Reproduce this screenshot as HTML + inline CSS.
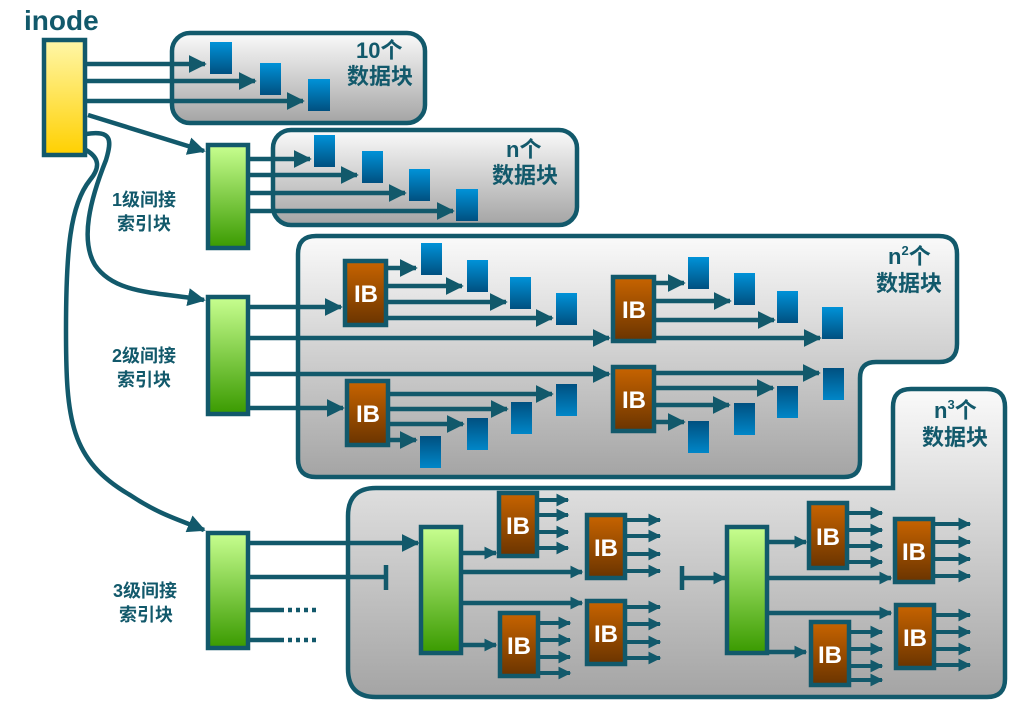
<!DOCTYPE html>
<html><head><meta charset="utf-8"><style>
html,body{margin:0;padding:0;background:#fff}
svg{display:block}
text{font-family:"Liberation Sans","Noto Sans CJK SC",sans-serif;font-weight:bold;fill:#12596b}
.ib{fill:#fff;font-size:24px;text-anchor:middle}
</style></head><body>
<svg width="1034" height="722" viewBox="0 0 1034 722" xmlns="http://www.w3.org/2000/svg">
<defs>
<linearGradient id="gb" x1="0" y1="0" x2="0" y2="1"><stop offset="0" stop-color="#fafafa"/><stop offset="1" stop-color="#a4a4a4"/></linearGradient>
<linearGradient id="gy" x1="0" y1="0" x2="0" y2="1"><stop offset="0" stop-color="#fff7a8"/><stop offset="1" stop-color="#ffd000"/></linearGradient>
<linearGradient id="gg" x1="0" y1="0" x2="0" y2="1"><stop offset="0" stop-color="#c8ff90"/><stop offset="1" stop-color="#3a9a00"/></linearGradient>
<linearGradient id="go" x1="0" y1="0" x2="0" y2="1"><stop offset="0" stop-color="#c86400"/><stop offset="1" stop-color="#6a3400"/></linearGradient>
<linearGradient id="gd" x1="0" y1="0" x2="0" y2="1"><stop offset="0" stop-color="#0092d8"/><stop offset="1" stop-color="#005080"/></linearGradient>
<linearGradient id="gu" x1="0" y1="0" x2="0" y2="1"><stop offset="0" stop-color="#005080"/><stop offset="1" stop-color="#0086c8"/></linearGradient>
<marker id="a" viewBox="0 0 10 10" refX="9" refY="5" markerWidth="18" markerHeight="18" markerUnits="userSpaceOnUse" orient="auto"><path d="M0,0L10,5L0,10z" fill="#12596b"/></marker>
<marker id="s" viewBox="0 0 10 10" refX="9" refY="5" markerWidth="13" markerHeight="13" markerUnits="userSpaceOnUse" orient="auto"><path d="M0,0L10,5L0,10z" fill="#12596b"/></marker>
</defs>
<g stroke="#12596b" stroke-width="4.5">
<rect x="172" y="33" width="253" height="90" rx="18" fill="url(#gb)"/>
<rect x="273" y="130" width="304" height="95" rx="18" fill="url(#gb)"/>
<path d="M316,236 H939 Q957,236 957,254 V344 Q957,362 939,362 H876 Q860,362 860,378 V461 Q860,477 844,477 H316 Q298,477 298,459 V254 Q298,236 316,236 Z" fill="url(#gb)"/>
<path d="M893,407 Q893,389 911,389 H987 Q1005,389 1005,407 V679 Q1005,697 987,697 H376 Q348,697 348,669 V516 Q348,488 376,488 H893 Z" fill="url(#gb)"/>
<rect x="44" y="40" width="41" height="115" fill="url(#gy)"/>
<g fill="none">
<line x1="87" y1="64" x2="205" y2="64" marker-end="url(#a)"/>
<line x1="87" y1="81" x2="255" y2="81" marker-end="url(#a)"/>
<line x1="87" y1="101" x2="303" y2="101" marker-end="url(#a)"/>
<line x1="88" y1="115" x2="204" y2="151" marker-end="url(#a)"/>
<path d="M86,134 C112,130 112,140 106,160 C90,200 80,240 95,265 C115,295 160,292 204,300" marker-end="url(#a)"/>
<path d="M86,150 C100,158 100,168 90,180 C70,205 66,250 66,330 C66,420 70,460 130,495 C160,515 180,520 204,530" marker-end="url(#a)"/>
</g>
<rect x="208" y="145" width="40" height="103" fill="url(#gg)"/>
<g fill="none">
<line x1="249" y1="159" x2="310" y2="159" marker-end="url(#a)"/>
<line x1="249" y1="175" x2="357" y2="175" marker-end="url(#a)"/>
<line x1="249" y1="193" x2="405" y2="193" marker-end="url(#a)"/>
<line x1="249" y1="211" x2="453" y2="211" marker-end="url(#a)"/>
</g>
<rect x="208" y="297" width="40" height="117" fill="url(#gg)"/>
<g fill="none">
<line x1="249" y1="307" x2="341" y2="307" marker-end="url(#a)"/>
<line x1="249" y1="338" x2="609" y2="338" marker-end="url(#a)"/>
<line x1="249" y1="374" x2="609" y2="374" marker-end="url(#a)"/>
<line x1="249" y1="408" x2="343" y2="408" marker-end="url(#a)"/>
<line x1="387" y1="268" x2="416" y2="268" marker-end="url(#a)"/>
<line x1="387" y1="286" x2="462" y2="286" marker-end="url(#a)"/>
<line x1="387" y1="302" x2="506" y2="302" marker-end="url(#a)"/>
<line x1="387" y1="318" x2="552" y2="318" marker-end="url(#a)"/>
<line x1="655" y1="283" x2="684" y2="283" marker-end="url(#a)"/>
<line x1="655" y1="301" x2="730" y2="301" marker-end="url(#a)"/>
<line x1="655" y1="320" x2="774" y2="320" marker-end="url(#a)"/>
<line x1="655" y1="338" x2="820" y2="338" marker-end="url(#a)"/>
<line x1="389" y1="394" x2="552" y2="394" marker-end="url(#a)"/>
<line x1="389" y1="409" x2="507" y2="409" marker-end="url(#a)"/>
<line x1="389" y1="424" x2="463" y2="424" marker-end="url(#a)"/>
<line x1="389" y1="440" x2="416" y2="440" marker-end="url(#a)"/>
<line x1="655" y1="373" x2="819" y2="373" marker-end="url(#a)"/>
<line x1="655" y1="388" x2="773" y2="388" marker-end="url(#a)"/>
<line x1="655" y1="405" x2="729" y2="405" marker-end="url(#a)"/>
<line x1="655" y1="422" x2="684" y2="422" marker-end="url(#a)"/>
</g>
<g fill="url(#go)">
<rect x="345" y="261" width="41" height="64"/>
<rect x="613" y="277" width="41" height="64"/>
<rect x="347" y="381" width="41" height="64"/>
<rect x="613" y="367" width="41" height="64"/>
</g>
<rect x="208" y="533" width="40" height="115" fill="url(#gg)"/>
<g fill="none">
<line x1="249" y1="543" x2="418" y2="543" marker-end="url(#a)"/>
<line x1="249" y1="577" x2="386" y2="577"/>
<line x1="386" y1="565" x2="386" y2="590"/>
<line x1="249" y1="610" x2="284" y2="610"/>
<line x1="249" y1="640" x2="284" y2="640"/>
<line x1="288" y1="610" x2="320" y2="610" stroke-dasharray="4 4"/>
<line x1="288" y1="640" x2="320" y2="640" stroke-dasharray="4 4"/>
<line x1="462" y1="553" x2="496" y2="553" marker-end="url(#s)"/>
<line x1="462" y1="572" x2="582" y2="572" marker-end="url(#s)"/>
<line x1="462" y1="603" x2="582" y2="603" marker-end="url(#s)"/>
<line x1="462" y1="645" x2="496" y2="645" marker-end="url(#s)"/>
<line x1="682" y1="566" x2="682" y2="590"/>
<line x1="682" y1="578" x2="725" y2="578" marker-end="url(#s)"/>
<line x1="768" y1="542" x2="806" y2="542" marker-end="url(#s)"/>
<line x1="768" y1="578" x2="891" y2="578" marker-end="url(#s)"/>
<line x1="768" y1="613" x2="891" y2="613" marker-end="url(#s)"/>
<line x1="768" y1="652" x2="806" y2="652" marker-end="url(#s)"/>
</g>
<rect x="421" y="527" width="40" height="126" fill="url(#gg)"/>
<rect x="727" y="527" width="40" height="126" fill="url(#gg)"/>
<g fill="url(#go)">
<rect x="499" y="493" width="38" height="63"/>
<rect x="587" y="515" width="38" height="63"/>
<rect x="587" y="601" width="38" height="63"/>
<rect x="500" y="613" width="38" height="63"/>
<rect x="809" y="503" width="38" height="65"/>
<rect x="895" y="519" width="38" height="63"/>
<rect x="896" y="605" width="38" height="63"/>
<rect x="811" y="622" width="38" height="63"/>
</g>
</g>
<g stroke="#12596b" stroke-width="4" fill="none">
<line x1="538" y1="500" x2="568" y2="500" marker-end="url(#s)"/><line x1="538" y1="515" x2="568" y2="515" marker-end="url(#s)"/><line x1="538" y1="532" x2="568" y2="532" marker-end="url(#s)"/><line x1="538" y1="548" x2="568" y2="548" marker-end="url(#s)"/>
<line x1="626" y1="520" x2="660" y2="520" marker-end="url(#s)"/><line x1="626" y1="536" x2="660" y2="536" marker-end="url(#s)"/><line x1="626" y1="554" x2="660" y2="554" marker-end="url(#s)"/><line x1="626" y1="571" x2="660" y2="571" marker-end="url(#s)"/>
<line x1="626" y1="607" x2="660" y2="607" marker-end="url(#s)"/><line x1="626" y1="624" x2="660" y2="624" marker-end="url(#s)"/><line x1="626" y1="642" x2="660" y2="642" marker-end="url(#s)"/><line x1="626" y1="658" x2="660" y2="658" marker-end="url(#s)"/>
<line x1="539" y1="623" x2="570" y2="623" marker-end="url(#s)"/><line x1="539" y1="640" x2="570" y2="640" marker-end="url(#s)"/><line x1="539" y1="657" x2="570" y2="657" marker-end="url(#s)"/><line x1="539" y1="673" x2="570" y2="673" marker-end="url(#s)"/>
<line x1="848" y1="513" x2="882" y2="513" marker-end="url(#s)"/><line x1="848" y1="530" x2="882" y2="530" marker-end="url(#s)"/><line x1="848" y1="546" x2="882" y2="546" marker-end="url(#s)"/><line x1="848" y1="562" x2="882" y2="562" marker-end="url(#s)"/>
<line x1="934" y1="524" x2="970" y2="524" marker-end="url(#s)"/><line x1="934" y1="542" x2="970" y2="542" marker-end="url(#s)"/><line x1="934" y1="559" x2="970" y2="559" marker-end="url(#s)"/><line x1="934" y1="576" x2="970" y2="576" marker-end="url(#s)"/>
<line x1="935" y1="615" x2="970" y2="615" marker-end="url(#s)"/><line x1="935" y1="632" x2="970" y2="632" marker-end="url(#s)"/><line x1="935" y1="649" x2="970" y2="649" marker-end="url(#s)"/><line x1="935" y1="665" x2="970" y2="665" marker-end="url(#s)"/>
<line x1="850" y1="632" x2="882" y2="632" marker-end="url(#s)"/><line x1="850" y1="649" x2="882" y2="649" marker-end="url(#s)"/><line x1="850" y1="666" x2="882" y2="666" marker-end="url(#s)"/><line x1="850" y1="680" x2="882" y2="680" marker-end="url(#s)"/>
</g>
<g fill="url(#gd)">
<rect x="210" y="42" width="22" height="32"/><rect x="260" y="63" width="21" height="32"/><rect x="308" y="79" width="22" height="32"/>
<rect x="314" y="135" width="21" height="32"/><rect x="362" y="151" width="21" height="32"/><rect x="409" y="169" width="21" height="32"/><rect x="456" y="189" width="22" height="32"/>
<rect x="421" y="243" width="21" height="32"/><rect x="467" y="260" width="21" height="32"/><rect x="510" y="277" width="21" height="32"/><rect x="556" y="293" width="21" height="32"/>
<rect x="688" y="257" width="21" height="32"/><rect x="734" y="273" width="21" height="32"/><rect x="777" y="291" width="21" height="32"/><rect x="822" y="307" width="21" height="32"/>
</g>
<g fill="url(#gu)">
<rect x="556" y="384" width="21" height="32"/><rect x="511" y="402" width="21" height="32"/><rect x="467" y="418" width="21" height="32"/><rect x="420" y="436" width="21" height="32"/>
<rect x="823" y="368" width="21" height="32"/><rect x="777" y="386" width="21" height="32"/><rect x="734" y="403" width="21" height="32"/><rect x="688" y="421" width="21" height="32"/>
</g>
<text class="ib" x="366" y="302">IB</text><text class="ib" x="634" y="318">IB</text>
<text class="ib" x="368" y="422">IB</text><text class="ib" x="634" y="408">IB</text>
<text class="ib" x="518" y="534">IB</text><text class="ib" x="606" y="556">IB</text>
<text class="ib" x="606" y="642">IB</text><text class="ib" x="519" y="654">IB</text>
<text class="ib" x="828" y="545">IB</text><text class="ib" x="914" y="560">IB</text>
<text class="ib" x="915" y="646">IB</text><text class="ib" x="830" y="663">IB</text>
<text x="24" y="30" font-size="28">inode</text>
<text x="356" y="58" font-size="22">10个</text>
<text x="347" y="84" font-size="22">数据块</text>
<text x="506" y="157" font-size="22">n个</text>
<text x="492" y="183" font-size="22">数据块</text>
<text x="888" y="264" font-size="22">n<tspan font-size="13" dy="-9">2</tspan><tspan dy="9">个</tspan></text>
<text x="876" y="291" font-size="22">数据块</text>
<text x="934" y="418" font-size="22">n<tspan font-size="13" dy="-9">3</tspan><tspan dy="9">个</tspan></text>
<text x="922" y="445" font-size="22">数据块</text>
<text x="112" y="206" font-size="18">1级间接</text>
<text x="117" y="230" font-size="18">索引块</text>
<text x="112" y="362" font-size="18">2级间接</text>
<text x="117" y="386" font-size="18">索引块</text>
<text x="113" y="597" font-size="18">3级间接</text>
<text x="119" y="621" font-size="18">索引块</text>
</svg>
</body></html>
